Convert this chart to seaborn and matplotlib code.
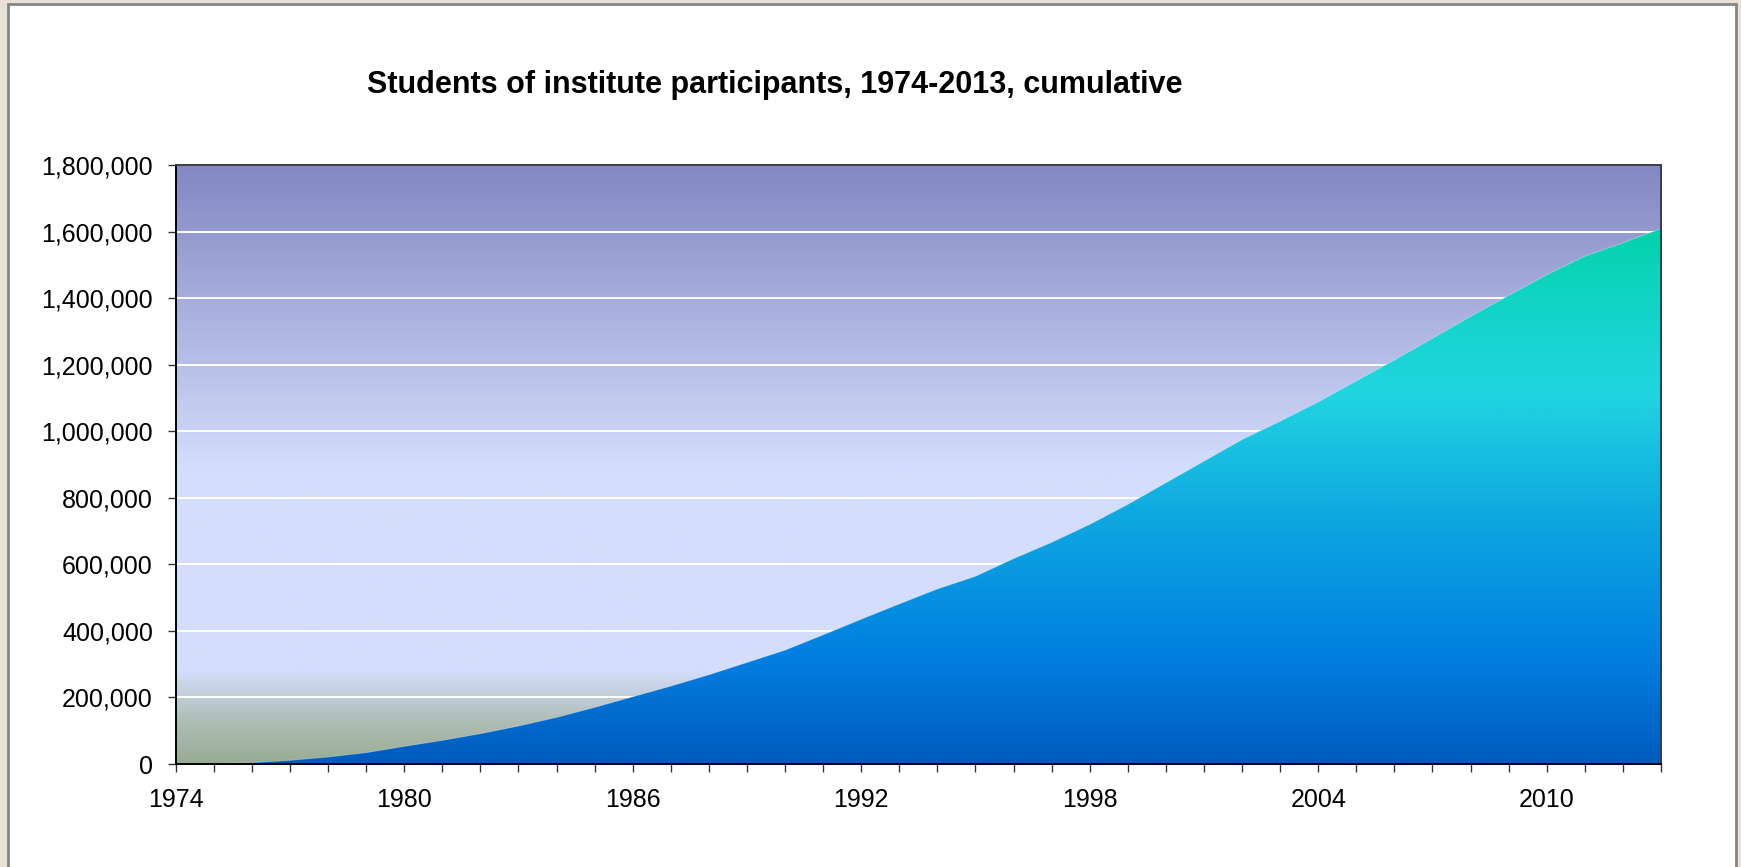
import numpy as np
import matplotlib
matplotlib.use("Agg")
import matplotlib.pyplot as plt
from matplotlib.colors import LinearSegmentedColormap
from matplotlib.patches import Rectangle
from matplotlib.ticker import FuncFormatter, MultipleLocator
import seaborn as sns

# ---- data ----
years = [1974, 1975, 1976, 1977, 1978, 1979, 1980, 1981, 1982, 1983,
         1984, 1985, 1986, 1987, 1988, 1989, 1990, 1991, 1992, 1993,
         1994, 1995, 1996, 1997, 1998, 1999, 2000, 2001, 2002, 2003,
         2004, 2005, 2006, 2007, 2008, 2009, 2010, 2011, 2012, 2013]
students = [0, 1000, 4000, 11000, 21000, 34000, 53000, 71000, 91000, 114000,
            140000, 170000, 202000, 234000, 268000, 305000, 342000, 388000, 435000, 481000,
            526000, 564000, 617000, 666000, 720000, 780000, 845000, 910000, 975000, 1030000,
            1088000, 1151000, 1214000, 1279000, 1345000, 1408000, 1470000, 1526000, 1566000, 1609000]
xtick_years = [1974, 1980, 1986, 1992, 1998, 2004, 2010]
title = "Students of institute participants, 1974-2013, cumulative"

sns.set_theme(style="white")
plt.rcParams['font.family'] = ['Liberation Sans', 'DejaVu Sans']

W, H = 1741, 867
fig = plt.figure(figsize=(W / 100, H / 100), dpi=100, facecolor="#E9E1D8")
fig.add_artist(Rectangle((8 / W, -0.01), (1736 - 8) / W, 1.01 - 4 / H,
                         transform=fig.transFigure, facecolor="white",
                         edgecolor="#858585", linewidth=2, zorder=-5))

left, right, bottom, top = 175.7 / W, 1661 / W, (H - 764) / H, (H - 165) / H
ax = fig.add_axes([left, bottom, right - left, top - bottom])

YMAX = 1800000
x0, x1 = years[0], years[-1]

# background gradient
bg_cmap = LinearSegmentedColormap.from_list("bg", [
    (0.0, "#98AC94"),
    (0.07, "#AEBDB6"),
    (0.155, "#D4DEFC"),
    (0.49, "#D4DEFC"),
    (1.0, "#8387C3"),
])
grad = np.linspace(0, 1, 512).reshape(-1, 1)
ax.imshow(grad, cmap=bg_cmap, origin="lower", aspect="auto",
          extent=[x0, x1, 0, YMAX], zorder=0, interpolation="bicubic")

# area with vertical gradient
fill_cmap = LinearSegmentedColormap.from_list("fill", [
    (0.0, "#005BBD"),
    (0.18, "#0080E2"),
    (0.42, "#0FA9E0"),
    (0.62, "#21D5E0"),
    (0.78, "#10D4C4"),
    (0.89, "#04D2AA"),
    (1.0, "#00D0A0"),
])
poly = ax.fill_between(years, students, 0, color="none", linewidth=0)
im = ax.imshow(grad, cmap=fill_cmap, origin="lower", aspect="auto",
               extent=[x0, x1, 0, YMAX], zorder=1, interpolation="bicubic")
im.set_clip_path(poly.get_paths()[0], transform=ax.transData)

sns.lineplot(x=years, y=students, ax=ax, color="white", alpha=0.3,
             linewidth=0.7, zorder=2)

ax.set_xlim(x0, x1)
ax.set_ylim(0, YMAX)

# grid
ax.set_axisbelow(True)
ax.yaxis.set_major_locator(MultipleLocator(200000))
ax.grid(axis="y", color="white", linewidth=1.4)
ax.grid(axis="x", visible=False)

ax.set_xticks(xtick_years)
ax.set_xticklabels([str(y) for y in xtick_years])
ax.set_xticks(years, minor=True)
ax.yaxis.set_major_formatter(FuncFormatter(lambda v, p: f"{int(v):,}"))

ax.tick_params(axis="both", which="both", direction="out", length=5.5,
               width=1.0, color="#333333", labelsize=18, labelcolor="black",
               bottom=True, left=True)
ax.tick_params(axis="x", which="major", pad=12)
ax.tick_params(axis="y", which="major", pad=11)

for s in ["left", "bottom"]:
    ax.spines[s].set_color("black")
    ax.spines[s].set_linewidth(1.4)
for s in ["top", "right"]:
    ax.spines[s].set_color("#3C3C46")
    ax.spines[s].set_linewidth(1.4)
    ax.spines[s].set_visible(True)
for sp in ax.spines.values():
    sp.set_zorder(3)

ax.set_xlabel("")
ax.set_ylabel("")

fig.text(775 / W, 1 - 85 / H, title, ha="center", va="center",
         fontsize=22, fontweight="bold", color="black")

fig.savefig("out.png", dpi=100, facecolor=fig.get_facecolor())
